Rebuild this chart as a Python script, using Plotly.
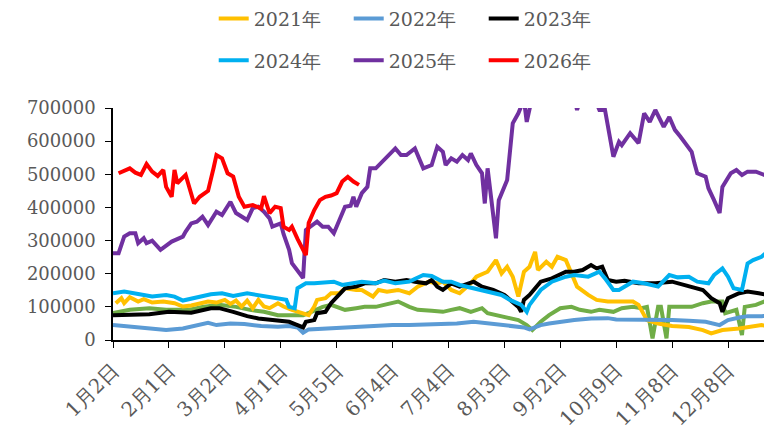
import plotly.graph_objects as go

# x-axis tick labels (every 20 trading days)
tick_labels = ["1月2日", "2月1日", "3月2日", "4月1日", "5月5日", "6月4日",
               "7月4日", "8月3日", "9月2日", "10月9日", "11月8日", "12月8日"]
tick_days = [0, 20, 40, 60, 80, 100, 120, 140, 160, 180, 200, 220]

# ---- series: trading-day index and value (thousand tons) ----
d2021 = [1, 3, 4, 6, 9, 11, 14, 18, 22, 25, 28, 31, 34, 37, 40, 42, 44, 46, 48, 50, 52, 54, 56, 59, 61, 64, 68, 70, 72, 73, 76, 78, 81, 83, 87, 89, 93, 95, 98, 102, 106, 109, 113, 116, 118, 121, 124, 128, 130, 134, 137, 139, 141, 143, 145, 147, 149, 151, 152, 155, 157, 159, 162, 164, 166, 170, 173, 177, 181, 186, 188, 191, 195, 200, 206, 211, 214, 218, 224, 229, 232, 236]
v2021 = [111, 126, 111, 129, 116, 123, 113, 116, 111, 101, 104, 111, 116, 113, 121, 109, 119, 101, 119, 96, 121, 101, 96, 111, 101, 91, 81, 75, 101, 121, 126, 141, 141, 156, 151, 151, 131, 151, 146, 151, 141, 161, 176, 171, 176, 151, 141, 171, 191, 206, 241, 201, 221, 191, 131, 206, 221, 266, 211, 236, 221, 251, 241, 201, 161, 136, 121, 116, 116, 116, 106, 60, 50, 42, 39, 30, 20, 30, 35, 42, 45, 40]

d2022 = [0, 6, 13, 19, 25, 29, 34, 37, 42, 47, 53, 59, 63, 66, 68, 70, 76, 82, 88, 94, 100, 106, 112, 117, 123, 129, 135, 141, 147, 149, 153, 156, 160, 165, 171, 177, 180, 183, 188, 194, 200, 206, 212, 217, 220, 224, 227, 232, 236]
v2022 = [45, 40, 35, 30, 35, 42, 52, 45, 50, 48, 42, 40, 42, 38, 22, 32, 35, 38, 40, 42, 45, 45, 47, 47, 50, 55, 50, 45, 38, 32, 45, 50, 55, 60, 65, 66, 62, 62, 62, 60, 60, 58, 55, 45, 60, 68, 72, 72, 75]

d2023 = [0, 6, 13, 20, 28, 35, 38, 43, 48, 52, 56, 60, 63, 66, 68, 69, 72, 73, 76, 78, 81, 83, 87, 90, 94, 97, 101, 105, 108, 112, 114, 116, 118, 121, 124, 129, 132, 136, 140, 142, 145, 146, 147, 149, 153, 157, 162, 165, 168, 171, 173, 175, 177, 180, 183, 188, 194, 200, 204, 207, 211, 214, 217, 218, 220, 224, 227, 231, 234, 236]
v2023 = [75, 75, 78, 85, 82, 96, 96, 85, 72, 65, 62, 57, 55, 45, 38, 55, 60, 81, 85, 111, 136, 156, 161, 171, 171, 181, 176, 181, 176, 171, 181, 161, 151, 171, 161, 176, 161, 151, 136, 121, 100, 85, 121, 136, 176, 186, 206, 206, 211, 226, 216, 221, 181, 176, 179, 171, 171, 176, 166, 161, 151, 126, 111, 85, 126, 141, 146, 141, 136, 138]

d2024 = [0, 4, 9, 14, 19, 22, 25, 30, 35, 39, 43, 48, 53, 59, 62, 63, 65, 66, 69, 72, 76, 79, 82, 86, 89, 94, 97, 101, 106, 111, 114, 118, 121, 124, 129, 134, 139, 142, 146, 148, 149, 153, 157, 162, 165, 170, 174, 176, 179, 181, 186, 190, 195, 199, 202, 206, 209, 213, 215, 218, 220, 222, 225, 227, 229, 232, 234, 236]
v2024 = [141, 146, 139, 131, 136, 131, 119, 129, 138, 141, 133, 141, 133, 126, 121, 100, 96, 156, 171, 171, 173, 176, 166, 171, 176, 171, 179, 171, 176, 196, 193, 176, 176, 166, 156, 146, 136, 121, 106, 85, 106, 151, 176, 191, 196, 191, 206, 186, 151, 151, 176, 171, 161, 196, 189, 191, 176, 171, 196, 216, 191, 156, 151, 231, 241, 251, 266, 261]

d2025 = [0, 2, 4, 6, 8, 9, 11, 12, 14, 17, 21, 25, 26, 28, 30, 32, 34, 37, 39, 42, 44, 48, 50, 52, 54, 56, 57, 60, 61, 63, 64, 66, 68, 69, 70, 73, 75, 77, 79, 80, 83, 85, 86, 87, 89, 91, 92, 94, 97, 99, 101, 103, 105, 108, 111, 114, 116, 118, 119, 121, 123, 125, 127, 128, 130, 132, 133, 134, 136, 137, 138, 141, 143, 145, 147, 148, 150, 153, 157, 161, 164, 166, 168, 171, 174, 176, 177, 179, 181, 182, 185, 187, 188, 190, 192, 194, 195, 197, 199, 201, 203, 205, 207, 208, 209, 212, 213, 215, 217, 218, 221, 223, 225, 227, 230, 233, 234, 235, 236]
v2025 = [262, 262, 312, 322, 322, 292, 307, 292, 300, 272, 297, 312, 327, 352, 357, 372, 347, 387, 377, 417, 383, 362, 398, 402, 387, 367, 342, 352, 320, 272, 232, 211, 187, 332, 338, 357, 342, 342, 322, 342, 402, 405, 432, 402, 443, 462, 518, 518, 543, 558, 578, 558, 558, 578, 518, 528, 583, 568, 528, 548, 538, 558, 543, 563, 528, 503, 412, 518, 392, 307, 422, 483, 654, 684, 725, 658, 735, 745, 760, 750, 765, 694, 745, 755, 694, 694, 650, 553, 598, 588, 624, 603, 594, 684, 658, 694, 679, 643, 673, 634, 613, 588, 568, 533, 503, 493, 458, 422, 383, 462, 503, 513, 498, 508, 508, 498, 493, 447, 455]

d2026 = [2, 4, 6, 8, 10, 12, 14, 16, 18, 19, 21, 22, 23, 26, 27, 29, 31, 34, 36, 37, 39, 41, 43, 45, 47, 50, 53, 54, 56, 58, 60, 61, 63, 64, 66, 69, 70, 72, 74, 76, 78, 80, 82, 84, 86, 88]
v2026 = [503, 512, 518, 505, 498, 531, 508, 495, 513, 462, 432, 513, 473, 498, 468, 412, 432, 450, 520, 558, 548, 503, 493, 432, 402, 407, 397, 434, 383, 402, 398, 342, 332, 342, 305, 256, 353, 392, 422, 432, 436, 443, 478, 492, 478, 468]

# unlabeled series (green, no legend entry)
d_other = [0, 6, 13, 19, 27, 32, 38, 44, 49, 54, 59, 63, 68, 71, 75, 78, 81, 83, 87, 90, 94, 97, 102, 106, 109, 114, 118, 121, 124, 128, 132, 134, 137, 141, 145, 148, 150, 153, 156, 160, 164, 167, 171, 174, 179, 182, 186, 189, 191, 193, 195, 196, 198, 199, 202, 207, 211, 214, 218, 219, 223, 225, 226, 230, 233, 236]
v_other = [81, 91, 96, 91, 91, 100, 106, 100, 91, 85, 75, 75, 75, 85, 100, 106, 96, 91, 96, 100, 100, 106, 116, 100, 91, 88, 85, 91, 96, 85, 96, 81, 75, 70, 60, 45, 30, 55, 75, 96, 100, 91, 85, 91, 85, 96, 100, 96, 100, 5, 100, 100, 5, 100, 100, 100, 111, 116, 116, 81, 91, 15, 100, 106, 116, 116]

series = [
    ("其他", d_other, v_other, "#70AD47", None),
    ("2021年", d2021, v2021, "#FFC000", "legend"),
    ("2022年", d2022, v2022, "#5B9BD5", "legend"),
    ("2023年", d2023, v2023, "#000000", "legend"),
    ("2024年", d2024, v2024, "#00B0F0", "legend2"),
    ("2025年", d2025, v2025, "#7030A0", "legend2"),
    ("2026年", d2026, v2026, "#FF0000", "legend2"),
]

FONT = "DejaVu Serif"
GRAY = "#595959"

fig = go.Figure()
for name, d, v, color, lg in series:
    fig.add_trace(go.Scatter(
        x=d, y=[val * 1000 for val in v], mode="lines", name=name,
        line=dict(color=color, width=4),
        showlegend=lg is not None,
        legend=lg if lg else "legend",
    ))

leg_common = dict(orientation="h", x=0.151, xanchor="left", yanchor="middle",
                  entrywidth=90, font=dict(family=FONT, size=19, color=GRAY),
                  bgcolor="rgba(0,0,0,0)", itemclick=False)

fig.update_layout(
    width=772, height=435,
    margin=dict(l=105, r=0, t=100, b=103, autoexpand=False),
    paper_bgcolor="white", plot_bgcolor="white",
    font=dict(family=FONT, color=GRAY, size=18),
    legend=dict(y=1.385, **leg_common),
    legend2=dict(y=1.205, **leg_common),
    xaxis=dict(range=[0, 238.6], tickmode="array", tickvals=tick_days, ticktext=tick_labels,
               tickangle=-45, ticks="outside", ticklen=6, tickcolor="black",
               showline=True, linecolor="black", linewidth=1.5, showgrid=False,
               zeroline=False, automargin=False, ticklabelstandoff=3,
               tickfont=dict(family=FONT, size=20, color=GRAY)),
    yaxis=dict(range=[0, 700000], dtick=100000, tickformat="d", ticks="outside",
               ticklen=6, tickcolor="black", showline=True, linecolor="black",
               linewidth=1.5, showgrid=False, zeroline=False, automargin=False,
               ticklabelstandoff=6,
               tickfont=dict(family=FONT, size=18, color=GRAY)),
)

fig.write_html("out.html")
